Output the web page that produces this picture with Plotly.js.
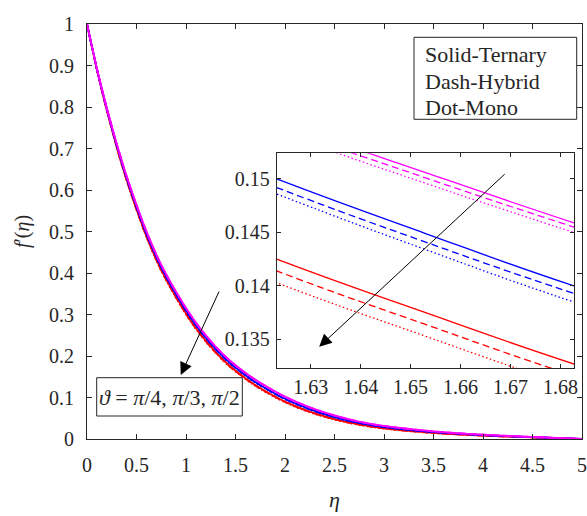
<!DOCTYPE html>
<html>
<head>
<meta charset="utf-8">
<script src="https://cdn.plot.ly/plotly-3.0.1.min.js"></script>
<style>html,body{margin:0;padding:0;background:#fff;}#plot{width:587px;height:516px;}</style>
</head>
<body>
<div id="plot"></div>
<script>
// eta grid
const eta = [0, 0.15, 0.35, 0.5, 0.63, 0.77, 1.0, 1.14, 1.3, 1.44, 1.6232, 1.653, 1.6827, 1.8, 2.0, 2.25, 2.5, 2.75, 3.0, 3.5, 4.0, 4.5, 5.0];

// f'(eta) for each case: colour = angle, style = nanofluid type
const magentaTernary = [1.0, 0.844, 0.6718, 0.5646, 0.4832, 0.4105, 0.3158, 0.2678, 0.2228, 0.1898, 0.1555, 0.1506, 0.1459, 0.1286, 0.1022, 0.0765, 0.0568, 0.0420, 0.0314, 0.0186, 0.0104, 0.0049, 0.0];
const magentaHybrid  = [1.0, 0.8439, 0.6714, 0.5642, 0.4828, 0.4100, 0.3153, 0.2673, 0.2223, 0.1893, 0.1550, 0.1501, 0.1455, 0.1281, 0.1018, 0.0761, 0.0564, 0.0418, 0.0312, 0.0184, 0.0103, 0.0049, 0.0];
const magentaMono    = [1.0, 0.8437, 0.6711, 0.5638, 0.4823, 0.4096, 0.3148, 0.2668, 0.2218, 0.1888, 0.1545, 0.1496, 0.1450, 0.1277, 0.1013, 0.0757, 0.0561, 0.0415, 0.0310, 0.0183, 0.0102, 0.0048, 0.0];
const blueTernary    = [1.0, 0.842, 0.668, 0.560, 0.478, 0.405, 0.310, 0.262, 0.217, 0.184, 0.1500, 0.1449, 0.1400, 0.123, 0.097, 0.072, 0.053, 0.039, 0.029, 0.017, 0.0095, 0.0045, 0.0];
const blueHybrid     = [1.0, 0.8417, 0.6675, 0.5594, 0.4773, 0.4042, 0.3092, 0.2612, 0.2162, 0.1832, 0.1492, 0.1441, 0.1393, 0.1222, 0.0963, 0.0714, 0.0525, 0.0386, 0.0287, 0.0168, 0.0094, 0.0045, 0.0];
const blueMono       = [1.0, 0.8415, 0.6671, 0.5589, 0.4767, 0.4037, 0.3086, 0.2606, 0.2156, 0.1826, 0.1486, 0.1434, 0.1385, 0.1216, 0.0957, 0.0709, 0.0521, 0.0383, 0.0284, 0.0166, 0.0093, 0.0044, 0.0];
const redTernary     = [1.0, 0.8394, 0.6631, 0.5540, 0.4712, 0.3979, 0.3025, 0.2545, 0.2095, 0.1765, 0.1425, 0.1375, 0.1327, 0.1157, 0.0902, 0.0661, 0.0481, 0.0351, 0.0258, 0.0150, 0.0084, 0.0040, 0.0];
const redHybrid      = [1.0, 0.8390, 0.6624, 0.5531, 0.4703, 0.3968, 0.3014, 0.2534, 0.2084, 0.1754, 0.1414, 0.1364, 0.1316, 0.1147, 0.0893, 0.0653, 0.0474, 0.0345, 0.0254, 0.0147, 0.0082, 0.0039, 0.0];
const redMono        = [1.0, 0.8386, 0.6617, 0.5522, 0.4693, 0.3958, 0.3003, 0.2523, 0.2073, 0.1743, 0.1403, 0.1353, 0.1305, 0.1136, 0.0883, 0.0644, 0.0467, 0.0340, 0.0249, 0.0144, 0.0080, 0.0038, 0.0];

const mainXTicks = [0, 0.5, 1, 1.5, 2, 2.5, 3, 3.5, 4, 4.5, 5];
const mainYTicks = [0, 0.1, 0.2, 0.3, 0.4, 0.5, 0.6, 0.7, 0.8, 0.9, 1];
const insetXTicks = [1.63, 1.64, 1.65, 1.66, 1.67, 1.68];
const insetYTicks = [0.135, 0.14, 0.145, 0.15];
const legendLines = ['Solid-Ternary', 'Dash-Hybrid', 'Dot-Mono'];
const angleLabel = '<i>ϑ</i> = <i>π</i>/4, <i>π</i>/3, <i>π</i>/2';

const FONT = 'Liberation Serif';
const AX = '#262626';
const DASH = '7px,4px';
const DOT = '1.5px,2.5px';

const series = [
  {y: magentaTernary, c: '#ff00ff', d: 'solid'},
  {y: magentaHybrid,  c: '#ff00ff', d: DASH},
  {y: magentaMono,    c: '#ff00ff', d: DOT},
  {y: blueTernary,    c: '#0000ff', d: 'solid'},
  {y: blueHybrid,     c: '#0000ff', d: DASH},
  {y: blueMono,       c: '#0000ff', d: DOT},
  {y: redTernary,     c: '#ff0000', d: 'solid'},
  {y: redHybrid,      c: '#ff0000', d: DASH},
  {y: redMono,        c: '#ff0000', d: DOT}
];

const traces = [];
series.slice().reverse().forEach(s => {
  traces.push({x: eta, y: s.y, type: 'scatter', mode: 'lines', xaxis: 'x', yaxis: 'y',
    line: {color: s.c, dash: s.d, width: 1.8, shape: 'spline', smoothing: 1}, hoverinfo: 'skip', showlegend: false});
});
series.forEach(s => {
  traces.push({x: eta, y: s.y, type: 'scatter', mode: 'lines', xaxis: 'x2', yaxis: 'y2',
    line: {color: s.c, dash: s.d, width: 1.3, shape: 'spline', smoothing: 1}, hoverinfo: 'skip', showlegend: false});
});

function axisBase(extra) {
  return Object.assign({
    showgrid: false, zeroline: false, showline: true, linecolor: AX, linewidth: 1,
    mirror: 'ticks', ticks: 'inside', ticklen: 5, tickcolor: AX, tickwidth: 1,
    tickfont: {family: FONT, size: 20, color: AX}, fixedrange: true, tickmode: 'array'
  }, extra);
}

const legendAnn = legendLines.map((t, i) => ({
  xref: 'paper', yref: 'paper', x: (423 - 87) / 495, y: (439 - (55 + i * 26.3)) / 415,
  xanchor: 'left', yanchor: 'middle', text: t, showarrow: false,
  font: {family: FONT, size: 22, color: AX}
}));

const layout = {
  width: 587, height: 516,
  margin: {l: 87, r: 5, t: 24, b: 77},
  paper_bgcolor: '#fff', plot_bgcolor: '#fff',
  font: {family: FONT, size: 20, color: AX},
  showlegend: false,
  xaxis: axisBase({
    domain: [0, 1], range: [0, 5], tickvals: mainXTicks, ticktext: mainXTicks.map(String), ticklabelstandoff: 8,
    title: {text: '<i>η</i>', font: {family: FONT, size: 22, color: AX}, standoff: 16}
  }),
  yaxis: axisBase({
    domain: [0, 1], range: [0, 1], tickvals: mainYTicks, ticktext: mainYTicks.map(String), ticklabelstandoff: 8,
    title: {text: '<i>f</i>′(<i>η</i>)', font: {family: FONT, size: 20, color: AX}, standoff: 14}
  }),
  xaxis2: axisBase({
    domain: [(276.7 - 87) / 495, (574 - 87) / 495], range: [1.6232, 1.6827], anchor: 'y2',
    tickvals: insetXTicks, ticktext: insetXTicks.map(String), ticklen: 4, ticklabelstandoff: 1
  }),
  yaxis2: axisBase({
    domain: [(439 - 368.3) / 415, (439 - 153.3) / 415], range: [0.1323, 0.1524], anchor: 'x2',
    tickvals: insetYTicks, ticktext: insetYTicks.map(String), ticklen: 4, ticklabelstandoff: 2
  }),
  shapes: [
    {type: 'rect', xref: 'paper', yref: 'paper',
     x0: (414 - 87) / 495, x1: (576.7 - 87) / 495, y0: (439 - 119.3) / 415, y1: (439 - 37.3) / 415,
     line: {color: AX, width: 1}, fillcolor: 'rgba(255,255,255,0)', layer: 'above'},
    {type: 'rect', xref: 'paper', yref: 'paper',
     x0: (96.7 - 87) / 495, x1: (242.3 - 87) / 495, y0: (439 - 416) / 415, y1: (439 - 377.7) / 415,
     line: {color: AX, width: 1}, fillcolor: 'rgba(255,255,255,0)', layer: 'above'}
  ],
  annotations: legendAnn.concat([
    {xref: 'paper', yref: 'paper', x: (169.5 - 87) / 495, y: (439 - 397) / 415,
     xanchor: 'center', yanchor: 'middle', text: angleLabel, showarrow: false,
     font: {family: FONT, size: 22, color: AX}},
    {xref: 'x', yref: 'y', x: 0.947, y: 0.1542, ax: 39, ay: -85, text: '', showarrow: true,
     arrowhead: 2, arrowsize: 2.5, arrowwidth: 1, arrowcolor: '#000'},
    {xref: 'x2', yref: 'y2', x: 1.6317, y: 0.13431, ax: 187, ay: -174, text: '', showarrow: true,
     arrowhead: 2, arrowsize: 2.5, arrowwidth: 1, arrowcolor: '#000'}
  ])
};

Plotly.newPlot('plot', traces, layout, {staticPlot: true, displayModeBar: false});
</script>
</body>
</html>
